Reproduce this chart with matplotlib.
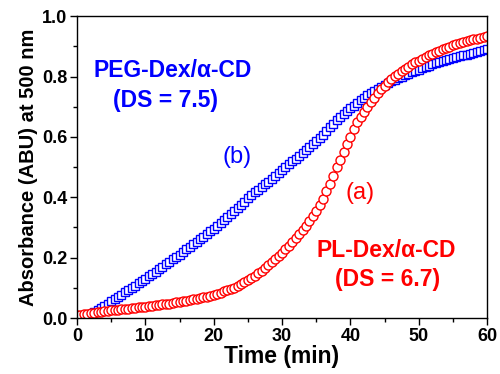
import numpy as np
import matplotlib
matplotlib.use('Agg')
from matplotlib import pyplot as plt
from matplotlib.ticker import MultipleLocator

# time axis (min), sampled every 0.5 min
t_peg = np.arange(1.0, 60.01, 0.5)
t_pl = np.arange(0.0, 60.01, 0.5)

# (b) PEG-Dex/a-CD, DS = 7.5
abs_peg = [
    0.000, 0.006, 0.012, 0.019, 0.026, 0.033, 0.040, 0.047, 0.055, 0.062,
    0.070, 0.077, 0.085, 0.092, 0.100, 0.107, 0.115, 0.122, 0.130, 0.138,
    0.146, 0.154, 0.162, 0.170, 0.178, 0.186, 0.194, 0.202, 0.210, 0.218,
    0.227, 0.235, 0.244, 0.252, 0.261, 0.269, 0.278, 0.287, 0.296, 0.305,
    0.315, 0.325, 0.335, 0.345, 0.355, 0.365, 0.376, 0.386, 0.397, 0.406,
    0.416, 0.425, 0.434, 0.443, 0.452, 0.461, 0.470, 0.480, 0.490, 0.500,
    0.510, 0.519, 0.528, 0.537, 0.547, 0.556, 0.566, 0.575, 0.585, 0.596,
    0.608, 0.620, 0.632, 0.643, 0.655, 0.665, 0.675, 0.685, 0.695, 0.704,
    0.713, 0.722, 0.730, 0.738, 0.745, 0.753, 0.760, 0.767, 0.773, 0.779,
    0.785, 0.790, 0.795, 0.800, 0.805, 0.810, 0.814, 0.819, 0.823, 0.828,
    0.832, 0.836, 0.840, 0.844, 0.848, 0.852, 0.855, 0.858, 0.861, 0.864,
    0.867, 0.870, 0.873, 0.876, 0.879, 0.882, 0.885, 0.888, 0.891,
]

# (a) PL-Dex/a-CD, DS = 6.7
abs_pl = [
    0.010, 0.011, 0.013, 0.014, 0.016, 0.017, 0.019, 0.020, 0.022, 0.023,
    0.025, 0.026, 0.027, 0.029, 0.030, 0.031, 0.032, 0.034, 0.035, 0.036,
    0.038, 0.039, 0.041, 0.042, 0.044, 0.045, 0.047, 0.048, 0.050, 0.052,
    0.054, 0.056, 0.058, 0.060, 0.062, 0.064, 0.066, 0.068, 0.071, 0.074,
    0.077, 0.080, 0.084, 0.088, 0.092, 0.096, 0.101, 0.106, 0.112, 0.118,
    0.125, 0.132, 0.140, 0.148, 0.156, 0.165, 0.174, 0.184, 0.194, 0.205,
    0.216, 0.228, 0.240, 0.252, 0.265, 0.277, 0.290, 0.305, 0.320, 0.337,
    0.355, 0.375, 0.395, 0.420, 0.445, 0.472, 0.500, 0.525, 0.550, 0.575,
    0.600, 0.625, 0.648, 0.665, 0.682, 0.699, 0.715, 0.730, 0.745, 0.758,
    0.770, 0.781, 0.792, 0.801, 0.810, 0.818, 0.826, 0.833, 0.840, 0.847,
    0.853, 0.859, 0.865, 0.871, 0.876, 0.881, 0.886, 0.891, 0.895, 0.899,
    0.903, 0.907, 0.910, 0.914, 0.917, 0.920, 0.923, 0.926, 0.929, 0.932,
    0.935,
]

blue, red = '#0000ff', '#ff0000'
plt.rcParams['font.family'] = ['Liberation Sans', 'DejaVu Sans']

fig = plt.figure(figsize=(5.0, 3.74), dpi=100)
ax = fig.add_axes([0.154, 0.1497, 0.82, 0.807])

ax.plot(t_peg, abs_peg, 's', ms=6, mfc='white', mec=blue, mew=1.0, ls='none')
ax.plot(t_pl, abs_pl, 'o', ms=6.5, mfc='white', mec=red, mew=1.0, ls='none')

ax.set_xlim(0, 60)
ax.set_ylim(0, 1.0)
ax.xaxis.set_major_locator(MultipleLocator(10))
ax.xaxis.set_minor_locator(MultipleLocator(5))
ax.yaxis.set_major_locator(MultipleLocator(0.2))
ax.yaxis.set_minor_locator(MultipleLocator(0.1))
ax.yaxis.set_major_formatter(matplotlib.ticker.FormatStrFormatter('%.1f'))
ax.tick_params(which='major', direction='out', length=5, width=1, labelsize=13, pad=2)
ax.tick_params(which='minor', direction='out', length=3, width=1)
for lab in ax.get_xticklabels() + ax.get_yticklabels():
    lab.set_fontweight('bold')
for s in ax.spines.values():
    s.set_linewidth(1)

ax.set_xlabel('Time (min)', fontsize=16.5, fontweight='bold', labelpad=0)
ax.set_ylabel('Absorbance (ABU) at 500 nm', fontsize=14.5, fontweight='bold', labelpad=3)

ax.text(14.0, 0.82, 'PEG-Dex/α-CD', color=blue, fontsize=16.5, fontweight='bold', ha='center', va='center')
ax.text(13.0, 0.72, '(DS = 7.5)', color=blue, fontsize=16.5, fontweight='bold', ha='center', va='center')
ax.text(23.4, 0.533, '(b)', color=blue, fontsize=17, ha='center', va='center')
ax.text(41.4, 0.414, '(a)', color=red, fontsize=17, ha='center', va='center')
ax.text(45.2, 0.225, 'PL-Dex/α-CD', color=red, fontsize=16.5, fontweight='bold', ha='center', va='center')
ax.text(45.5, 0.126, '(DS = 6.7)', color=red, fontsize=16.5, fontweight='bold', ha='center', va='center')

plt.savefig('out.png', dpi=100)
